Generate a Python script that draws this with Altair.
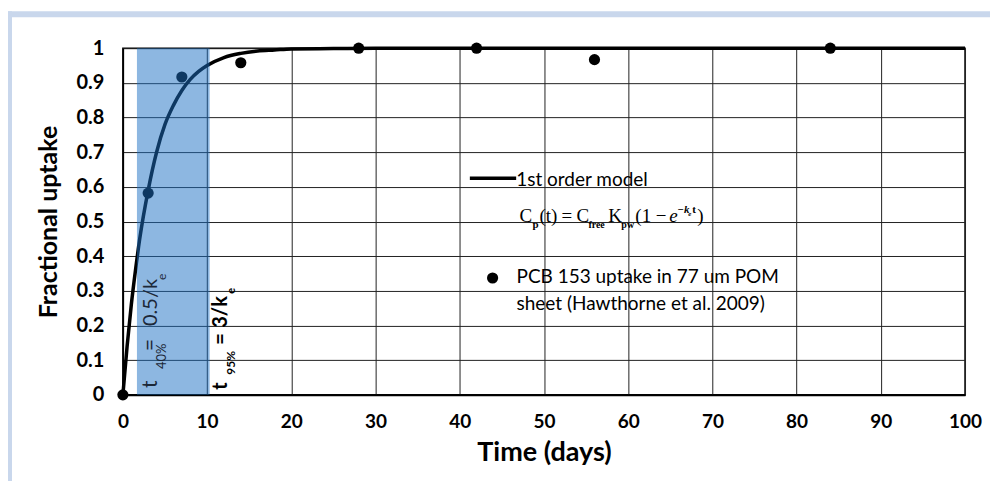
import altair as alt
import pandas as pd

# measured data (PCB 153 uptake)
obs_t = [0, 3, 7, 14, 28, 42, 56, 84]
obs_f = [0.0, 0.582, 0.917, 0.958, 1.0, 1.0, 0.967, 1.0]

# 1st-order model curve
model_t = [0, 0.5, 1, 1.5, 2, 3, 4, 5, 6, 7, 8, 9, 10, 12, 14, 16, 18, 20, 25, 30, 40, 60, 100]
model_f = [0.0, 0.14, 0.26, 0.36, 0.45, 0.59, 0.70, 0.78, 0.835, 0.878, 0.91, 0.933, 0.95,
           0.973, 0.985, 0.992, 0.995, 0.998, 0.999, 1.0, 1.0, 1.0, 1.0]

# shaded window t40% .. t95%
band_start = [1.67]
band_end = [10.3]

x_ticks = [0, 10, 20, 30, 40, 50, 60, 70, 80, 90, 100]
y_ticks = [0, 0.1, 0.2, 0.3, 0.4, 0.5, 0.6, 0.7, 0.8, 0.9, 1.0]

obs = pd.DataFrame({"t": obs_t, "f": obs_f})
model = pd.DataFrame({"t": model_t, "f": model_f})
band = pd.DataFrame({"t0": band_start, "t1": band_end})

W, H = 843, 347
xs = alt.Scale(domain=[0, 100], nice=False, zero=False)
ys = alt.Scale(domain=[0, 1], nice=False, zero=False)

SANS = "Lato, Open Sans, sans-serif"
SERIF = "Liberation Serif, DejaVu Serif, serif"

XT = "Time (days)"
YT = "Fractional uptake"


def x_axis():
    return alt.Axis(values=x_ticks, title=XT, format="d", labelFlush=False)


def y_axis():
    return alt.Axis(values=y_ticks, title=YT, format=".1~f", labelFlush=False)


def X(field=None, datum=None):
    if field is not None:
        return alt.X(field, type="quantitative", scale=xs, axis=x_axis(), title=XT)
    return alt.X(datum=datum, scale=xs, axis=x_axis(), title=XT)


def Y(field=None, datum=None):
    if field is not None:
        return alt.Y(field, type="quantitative", scale=ys, axis=y_axis(), title=YT)
    return alt.Y(datum=datum, scale=ys, axis=y_axis(), title=YT)


curve = alt.Chart(model).mark_line(color="black", strokeWidth=3.5,
                                   interpolate="monotone", clip=False).encode(
    x=X("t"), y=Y("f"))
points = alt.Chart(obs).mark_circle(color="black", size=125, opacity=1).encode(
    x=X("t"), y=Y("f"))

rect = alt.Chart(band).mark_rect(color="#1b70c4", opacity=0.5).encode(
    x=X("t0"), x2="t1:Q", y=Y(datum=0), y2=alt.datum(1))


def txt(text, x, y, size, font=SANS, weight="normal", style="normal", color="black",
        angle=0, dx=0, dy=0):
    return alt.Chart().mark_text(
        text=text, font=font, fontSize=size, fontWeight=weight, fontStyle=style,
        color=color, align="left", baseline="alphabetic", angle=angle, dx=dx, dy=dy
    ).encode(x=X(datum=x), y=Y(datum=y))


# rotated labels inside / beside the band
c1 = "#1c2838"
rot1 = [
    txt("t", 4.03, 0.02, 21, color=c1, angle=270),
    txt("40%", 4.03, 0.02, 13, color=c1, angle=270, dx=19, dy=9),
    txt("=", 4.03, 0.02, 21, color=c1, angle=270, dx=37),
    txt("0.5/k", 4.03, 0.02, 20, color=c1, angle=270, dx=62),
    txt("e", 4.03, 0.02, 12, color=c1, angle=270, dx=108, dy=9),
]
rot2 = [
    txt("t", 12.34, 0.015, 20, weight="bold", angle=270),
    txt("95%", 12.34, 0.015, 12, weight="bold", angle=270, dx=15, dy=8),
    txt("=", 12.34, 0.015, 20, weight="bold", angle=270, dx=45),
    txt("3/k", 12.34, 0.015, 20, weight="bold", angle=270, dx=62),
    txt("e", 12.34, 0.015, 11, weight="bold", angle=270, dx=96, dy=8),
]

# legend-like annotation
leg_line = alt.Chart().mark_rule(color="black", strokeWidth=3.5).encode(
    x=X(datum=41.2), x2=alt.datum(46.7), y=Y(datum=0.625))
leg_pt = alt.Chart().mark_point(filled=True, shape="circle", color="black", size=125, opacity=1).encode(
    x=X(datum=43.9), y=Y(datum=0.337))
legend_txt = [
    txt("1st order model", 46.7, 0.603, 19),
    txt("PCB 153 uptake in 77 um POM", 46.74, 0.323, 19),
    txt("sheet (Hawthorne et al. 2009)", 46.74, 0.245, 19),
]

# equation, laid out piece by piece from one anchor
EX, EY = 47.09, 0.4986
eq_parts = [
    # text, dx, dy, size, weight, style
    ("C", 0, 0, 19, "normal", "normal"),
    ("p", 13, 6, 11, "bold", "normal"),
    ("(t)", 20, 0, 19, "normal", "normal"),
    ("=", 42, 0, 19, "normal", "normal"),
    ("C", 57, 0, 19, "normal", "normal"),
    ("free", 69, 6, 10, "bold", "normal"),
    ("K", 89, 0, 19, "normal", "normal"),
    ("pw", 102, 6, 10, "bold", "normal"),
    ("(1 −", 116, 0, 19, "normal", "normal"),
    ("e", 150, 0, 19, "normal", "italic"),
    ("−k", 158, -9, 11, "bold", "italic"),
    ("e", 169, -6, 7, "bold", "italic"),
    ("t", 173, -9, 11, "bold", "normal"),
    (")", 178, 0, 19, "normal", "normal"),
]
eq = [txt(s, EX, EY, sz, font=SERIF, weight=w, style=st, dx=dx, dy=dy)
      for (s, dx, dy, sz, w, st) in eq_parts]

# decorative slide frame (top and left bars)
frame_top = alt.Chart().mark_rule(color="#c9d7ec", strokeWidth=6).encode(
    x=alt.value(-117), x2=alt.value(W + 40), y=alt.value(-34))
frame_left = alt.Chart().mark_rule(color="#c9d7ec", strokeWidth=6).encode(
    x=alt.value(-114), y=alt.value(-37), y2=alt.value(H + 120))

chart = alt.layer(
    frame_top, frame_left,
    curve, points, rect, *rot1, *rot2, leg_line, leg_pt, *legend_txt, *eq,
).properties(
    width=W, height=H,
    autosize=alt.AutoSizeParams(type="none"),
    padding={"left": 115, "top": 40, "right": 25, "bottom": 86},
    background="white",
).configure_view(
    stroke="black", strokeWidth=1.5
).configure_axis(
    grid=True, gridColor="#222", gridWidth=1, ticks=False, labelOverlap=False,
    labelFont=SANS, labelFontWeight="bold", labelColor="black",
    titleFont=SANS, titleFontWeight="bold", titleColor="black", domainColor="black",
).configure_axisX(
    labelFontSize=19, labelPadding=18, titleFontSize=27, titlePadding=8, domainWidth=2,
).configure_axisY(
    labelFontSize=20, labelPadding=19, titleFontSize=25, titlePadding=15, domainWidth=1.5,
)

chart.save("out.html", embed_options={"renderer": "svg", "actions": False})
